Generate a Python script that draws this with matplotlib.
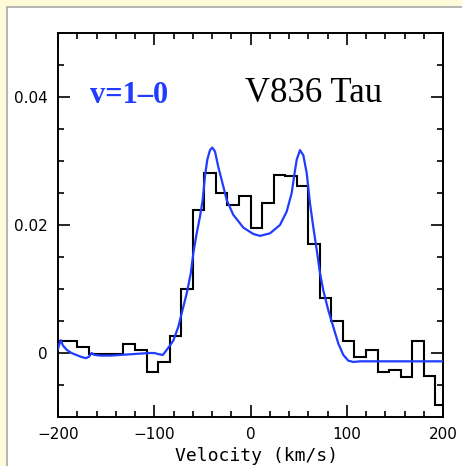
import numpy as np
import matplotlib
matplotlib.use("Agg")
import matplotlib.pyplot as plt
from matplotlib.patches import Rectangle
from matplotlib.ticker import MultipleLocator, FuncFormatter

# observed spectrum (histogram bins, km/s) and line flux
bin_edges = [-204, -192, -180, -168, -156, -144, -132, -120, -108, -96, -84,
             -72, -60, -48, -36, -24, -12, 0, 12, 24, 36, 48, 60, 72, 84, 96,
             108, 120, 132, 144, 156, 168, 180, 192, 204]
flux = [0.0019, 0.0019, 0.0009, -0.0002, -0.0001, -0.0001, 0.0014, 0.0005,
        -0.0030, -0.0014, 0.0027, 0.0100, 0.0223, 0.0282, 0.0250, 0.0232,
        0.0245, 0.0196, 0.0234, 0.0278, 0.0277, 0.0261, 0.0170, 0.0086,
        0.0050, 0.0019, -0.0006, 0.0004, -0.0030, -0.0027, -0.0037, 0.0018,
        -0.0036, -0.0081]

# model profile
model_vel = [-200, -199, -197, -195, -191, -186, -181, -176, -171, -168, -165,
             -162, -156, -145, -135, -125, -115, -105, -100, -95, -91, -87,
             -83.5, -80, -75, -71.5, -66.3, -62.1, -59.4, -55.9, -52.5, -49.7,
             -47.3, -44.9, -42.1, -39.7, -36.9, -33.5, -29.9, -24.7, -17.9,
             -7.5, 2.9, 9.9, 20.3, 30.6, 37.6, 42.8, 45.5, 48.0, 51.4, 54.9,
             58.4, 61.8, 65.2, 68.8, 72.2, 75.6, 80.8, 86.0, 91.2, 96.4, 101.6,
             106.8, 113.8, 200]
model_flux = [0.0006, 0.0012, 0.0020, 0.0012, 0.0005, 0.0000, -0.0003, -0.0006,
              -0.0008, -0.0006, 0.0000, -0.0003, -0.0004, -0.0004, -0.0003,
              -0.0002, -0.0001, 0.0000, 0.0000, -0.0002, -0.0003, 0.0005,
              0.0012, 0.0020, 0.0041, 0.0062, 0.0093, 0.0124, 0.0156, 0.0187,
              0.0213, 0.0239, 0.0276, 0.0302, 0.0317, 0.0321, 0.0315, 0.0291,
              0.0270, 0.0239, 0.0216, 0.0196, 0.0186, 0.0183, 0.0187, 0.0200,
              0.0221, 0.0250, 0.0278, 0.0302, 0.0317, 0.0309, 0.0281, 0.0234,
              0.0197, 0.0161, 0.0125, 0.0098, 0.0067, 0.0041, 0.0015, -0.0003,
              -0.0012, -0.0014, -0.0013, -0.0013]

blue = "#1f3cff"

fig = plt.figure(figsize=(4.62, 4.66), dpi=100, facecolor="#fffad8")
# white page with grey edge over the yellow background
fig.add_artist(Rectangle((7.5 / 462, -0.02), 1.05, 1 - 6.5 / 466 + 0.02,
                         transform=fig.transFigure, facecolor="white",
                         edgecolor="#a8a8a8", lw=1.2, zorder=0))

ax = fig.add_axes([58 / 462, 1 - 417 / 466, 385 / 462, 384 / 466])
ax.set_facecolor("white")

ax.stairs(flux, bin_edges, baseline=None, color="black", lw=1.5, zorder=2)
ax.plot(model_vel, model_flux, color=blue, lw=1.6, zorder=3)

ax.set_xlim(-200, 200)
ax.set_ylim(-0.01, 0.05)

ax.xaxis.set_major_locator(MultipleLocator(100))
ax.xaxis.set_minor_locator(MultipleLocator(20))
ax.yaxis.set_major_locator(MultipleLocator(0.02))
ax.yaxis.set_minor_locator(MultipleLocator(0.005))
ax.yaxis.set_major_formatter(FuncFormatter(lambda v, p: "0" if abs(v) < 1e-9 else f"{v:.2f}"))
ax.xaxis.set_major_formatter(FuncFormatter(lambda v, p: f"{v:.0f}".replace("-", "\u2212")))

ax.tick_params(which="both", direction="in", top=True, right=True, width=1.2,
               labelsize=11)
ax.tick_params(which="major", length=8.5)
ax.tick_params(which="minor", length=4.3)
ax.tick_params(axis="x", pad=7.5)
ax.tick_params(axis="y", pad=7.5)
for s in ax.spines.values():
    s.set_linewidth(1.4)

ax.text(0.515, -0.1146, "Velocity (km/s)", transform=ax.transAxes,
        ha="center", va="baseline", fontsize=13, family="DejaVu Sans Mono")
ax.text(0.083, 0.818, "v=1\u20130", transform=ax.transAxes, color=blue,
        fontsize=22, fontweight="bold", family="Liberation Serif", va="baseline")
ax.text(0.486, 0.820, "V836 Tau", transform=ax.transAxes, color="black",
        fontsize=25, family="Liberation Serif", va="baseline")

fig.savefig("out.png", dpi=100, facecolor=fig.get_facecolor())
